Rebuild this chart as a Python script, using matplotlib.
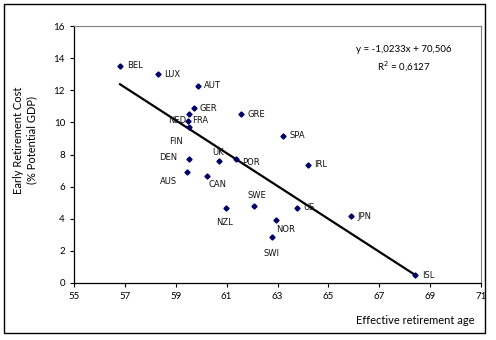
import matplotlib
matplotlib.use("Agg")
import matplotlib.pyplot as plt
from matplotlib.patches import Rectangle
import numpy as np

# Données
pays = ["BEL", "LUX", "AUT", "GER", "FRA", "NED", "FIN", "GRE", "SPA", "DEN",
        "UK", "POR", "AUS", "CAN", "IRL", "NZL", "SWE", "US", "NOR", "SWI",
        "JPN", "ISL"]
age = [56.81, 58.30, 59.89, 59.73, 59.53, 59.47, 59.52, 61.58, 63.22, 59.52,
       60.70, 61.38, 59.43, 60.24, 64.20, 60.96, 62.08, 63.78, 62.95, 62.78,
       65.89, 68.42]
cout = [13.51, 13.00, 12.29, 10.88, 10.50, 10.10, 9.69, 10.52, 9.17, 7.72,
        7.60, 7.72, 6.89, 6.68, 7.37, 4.69, 4.77, 4.69, 3.90, 2.86,
        4.17, 0.48]

# Tendance linéaire (équation affichée)
pente = -1.0233
origine = 70.506
r2 = 0.6127

# Décalage des étiquettes (pixels) et alignement
etiq = {
    "BEL": (7, 0, "left"), "LUX": (6, 0, "left"), "AUT": (6, 0, "left"),
    "GER": (5, 0, "left"), "FRA": (3, -6, "left"), "NED": (-1, 0, "right"),
    "FIN": (-6, -14, "right"), "GRE": (6, 0, "left"), "SPA": (6, 0, "left"),
    "DEN": (-12, 1, "right"), "UK": (-1, 8, "center"), "POR": (6, -4, "left"),
    "AUS": (-10, -9, "right"), "CAN": (1, -9, "left"), "IRL": (6, 0, "left"),
    "NZL": (-1, -15, "center"), "SWE": (3, 11, "center"), "US": (6, 0, "left"),
    "NOR": (0, -9, "left"), "SWI": (0, -16, "center"), "JPN": (6, 0, "left"),
    "ISL": (7, 0, "left"),
}

fig = plt.figure(figsize=(4.96, 3.40), dpi=100)
ax = fig.add_axes([74/496, 57/340, 407/496, 257/340])

# Cadre extérieur
fig.patches.append(Rectangle((4/496, 7/340), 481/496, 329/340,
                             transform=fig.transFigure, fill=False,
                             edgecolor="black", linewidth=1.0))

ax.plot(age, cout, "D", color="#000066", markersize=2.6, zorder=3)

xt = np.array([min(age), max(age)])
ax.plot(xt, pente * xt + origine, color="black", linewidth=1.6, zorder=2)

for p, x, y in zip(pays, age, cout):
    dx, dy, ha = etiq[p]
    ax.annotate(p, (x, y), xytext=(dx, dy), textcoords="offset pixels",
                ha=ha, va="center", fontsize=6, family="DejaVu Sans",
                color="#111111")

eq1 = "y = {:,.4f}x + {:,.3f}".format(pente, origine).replace(".", ",")
eq2 = "R$^2$ = {:.4f}".format(r2).replace(".", ",")
ax.text(404/496, 1 - 50/340, eq1, transform=fig.transFigure, ha="center",
        va="center", fontsize=7, family="Lato")
ax.text(404/496, 1 - 67/340, eq2, transform=fig.transFigure, ha="center",
        va="center", fontsize=7, family="Lato")

ax.set_xlim(55, 71)
ax.set_ylim(0, 16)
ax.set_xticks(np.arange(55, 72, 2))
ax.set_yticks(np.arange(0, 17, 2))
ax.tick_params(labelsize=7, length=3, width=0.8, direction="out", pad=3.5)
for lab in ax.get_xticklabels() + ax.get_yticklabels():
    lab.set_family("Lato")

for s in ["top", "right"]:
    ax.spines[s].set_color("#808080")
    ax.spines[s].set_linewidth(0.8)
for s in ["left", "bottom"]:
    ax.spines[s].set_color("black")
    ax.spines[s].set_linewidth(0.9)

fig.text(475/496, 1 - 321/340, "Effective retirement age", ha="right",
         va="center", fontsize=8, family="Lato")
fig.text(25/496, 1 - 140/340, "Early Retirement Cost\n(% Potential GDP)",
         ha="center", va="center", rotation=90, fontsize=8, family="Lato",
         linespacing=1.3)

fig.savefig("out.png", dpi=100)
plt.close(fig)
